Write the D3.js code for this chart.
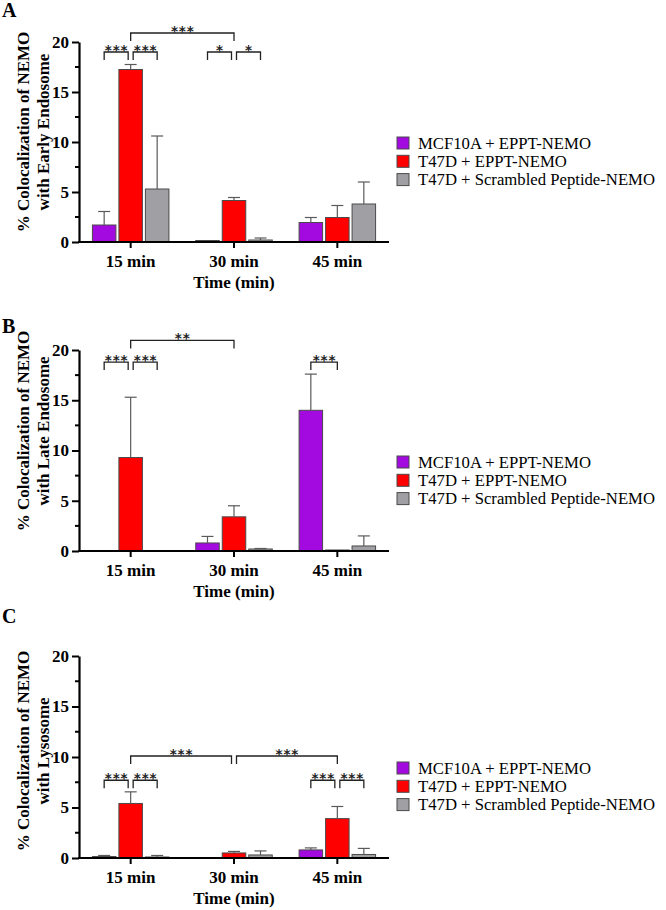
<!DOCTYPE html>
<html>
<head>
<meta charset="utf-8">
<script src="https://cdn.jsdelivr.net/npm/d3@7"></script>
<style>
  html, body { margin: 0; padding: 0; background: #fff; }
  svg { display: block; }
  svg text { font-family: "Liberation Serif", "Times New Roman", serif; }
  svg text.star { font-family: "DejaVu Sans", sans-serif; }
</style>
</head>
<body>
<div id="chart"></div>
<script>
// ---- data ----
const timepoints = ['15 min', '30 min', '45 min'];
const groups = ['MCF10A + EPPT-NEMO', 'T47D + EPPT-NEMO', 'T47D + Scrambled Peptide-NEMO'];
const groupColors = ['#a30ae0', '#ff0000', '#a0a0a4'];
const yTicks = [0, 5, 10, 15, 20];

// means per group, one value per timepoint, and upper error (SD)
const earlyMcf = [1.7, 0.15, 1.95];
const earlyT47 = [17.25, 4.15, 2.45];
const earlyScr = [5.3, 0.2, 3.8];
const earlyMcfErr = [1.35, 0, 0.5];
const earlyT47Err = [0.5, 0.3, 1.2];
const earlyScrErr = [5.3, 0.2, 2.2];

const lateMcf = [0, 0.8, 14.0];
const lateT47 = [9.3, 3.4, 0.1];
const lateScr = [0, 0.2, 0.5];
const lateMcfErr = [0, 0.65, 3.6];
const lateT47Err = [6.0, 1.1, 0];
const lateScrErr = [0, 0.05, 1.0];

const lysoMcf = [0.15, 0, 0.8];
const lysoT47 = [5.4, 0.5, 3.9];
const lysoScr = [0.1, 0.3, 0.35];
const lysoMcfErr = [0.1, 0, 0.2];
const lysoT47Err = [1.15, 0.15, 1.2];
const lysoScrErr = [0.15, 0.4, 0.6];

// significance brackets: [time from, group from, time to, group to, level, label]
const earlySig = [
  [0, 1, 1, 1, 20.9, '***'],
  [0, 0, 0, 1, 19.0, '***'],
  [0, 1, 0, 2, 19.0, '***'],
  [1, 0, 1, 1, 19.0, '*'],
  [1, 1, 1, 2, 19.0, '*']
];
const lateSig = [
  [0, 1, 1, 1, 20.95, '**'],
  [0, 0, 0, 1, 18.8, '***'],
  [0, 1, 0, 2, 18.8, '***'],
  [2, 0, 2, 1, 18.8, '***']
];
const lysoSig = [
  [0, 1, 1, 1, 10.1, '***'],
  [1, 1, 2, 1, 10.1, '***'],
  [0, 0, 0, 1, 7.7, '***'],
  [0, 1, 0, 2, 7.7, '***'],
  [2, 0, 2, 1, 7.7, '***'],
  [2, 1, 2, 2, 7.7, '***']
];

const panels = [
  { letter: 'A', subtitle: 'with Early Endosome', top: 42, bottom: 242, letterY: 17, titleMid: 132, legendTop: 143,
    means: [earlyMcf, earlyT47, earlyScr], errs: [earlyMcfErr, earlyT47Err, earlyScrErr], sig: earlySig },
  { letter: 'B', subtitle: 'with Late Endosome', top: 350, bottom: 551, letterY: 333, titleMid: 431, legendTop: 462,
    means: [lateMcf, lateT47, lateScr], errs: [lateMcfErr, lateT47Err, lateScrErr], sig: lateSig },
  { letter: 'C', subtitle: 'with Lysosome', top: 656, bottom: 858, letterY: 623, titleMid: 751, legendTop: 768,
    means: [lysoMcf, lysoT47, lysoScr], errs: [lysoMcfErr, lysoT47Err, lysoScrErr], sig: lysoSig }
];

const width = 666, height = 910;
const axisLeft = 79, axisRight = 389;

const svg = d3.select('#chart').append('svg')
  .attr('width', width)
  .attr('height', height);

const x0 = d3.scaleBand().domain(d3.range(timepoints.length)).range([axisLeft, axisRight]);
const x1 = d3.scaleBand().domain(d3.range(groups.length)).range([-38.25, 38.25]).paddingInner(0.113);
const barX = (t, g) => x0(t) + x0.bandwidth() / 2 + x1(g);
const barCenter = (t, g) => barX(t, g) + x1.bandwidth() / 2;

panels.forEach(p => {
  const y = d3.scaleLinear().domain([0, 20]).range([p.bottom, p.top]);
  const g = svg.append('g');

  // panel letter
  g.append('text')
    .attr('x', 2).attr('y', p.letterY)
    .attr('font-size', 20).attr('font-weight', 'bold')
    .text(p.letter);

  // bars
  p.means.forEach((series, gi) => {
    g.append('g').selectAll('rect')
      .data(series)
      .join('rect')
      .attr('x', (d, t) => barX(t, gi))
      .attr('width', x1.bandwidth())
      .attr('y', d => y(d))
      .attr('height', d => y(0) - y(d))
      .attr('fill', groupColors[gi])
      .attr('stroke', '#4a4a4a')
      .attr('stroke-width', 1)
      .style('display', d => d > 0 ? null : 'none');

    // error bars (upper only)
    const eb = g.append('g').attr('stroke', '#5a5a5a').attr('stroke-width', 1.2);
    series.forEach((d, t) => {
      const e = p.errs[gi][t];
      if (e <= 0) return;
      const cx = barCenter(t, gi);
      eb.append('line').attr('x1', cx).attr('x2', cx).attr('y1', y(d)).attr('y2', y(d + e));
      eb.append('line').attr('x1', cx - 6).attr('x2', cx + 6).attr('y1', y(d + e)).attr('y2', y(d + e));
    });
  });

  // y axis
  const yAxis = g.append('g')
    .attr('transform', `translate(${axisLeft},0)`)
    .call(d3.axisLeft(y).tickValues(yTicks).tickSize(7).tickSizeOuter(0).tickPadding(3));
  yAxis.attr('font-family', null);
  yAxis.select('.domain').attr('stroke-width', 2.2);
  yAxis.selectAll('.tick line').attr('stroke-width', 2);
  yAxis.selectAll('text').attr('font-size', 17).attr('font-weight', 'bold').attr('fill', '#000');
  const minor = g.append('g').attr('stroke', '#000').attr('stroke-width', 2);
  d3.range(2.5, 20, 5).forEach(v => {
    minor.append('line').attr('x1', axisLeft - 4).attr('x2', axisLeft).attr('y1', y(v)).attr('y2', y(v));
  });

  // x axis
  const xAxis = g.append('g')
    .attr('transform', `translate(0,${p.bottom})`)
    .call(d3.axisBottom(x0).tickFormat(i => timepoints[i]).tickSize(6).tickSizeOuter(0).tickPadding(7));
  xAxis.attr('font-family', null);
  xAxis.select('.domain').attr('stroke-width', 2.2).attr('d', `M${axisLeft - 1},0H${axisRight}`);
  xAxis.selectAll('.tick line').attr('stroke-width', 2);
  xAxis.selectAll('text').attr('font-size', 17).attr('font-weight', 'bold').attr('fill', '#000');

  g.append('text')
    .attr('x', (axisLeft + axisRight) / 2).attr('y', p.bottom + 46)
    .attr('text-anchor', 'middle')
    .attr('font-size', 17).attr('font-weight', 'bold')
    .text('Time (min)');

  // y title
  const yt = g.append('text')
    .attr('transform', `translate(0,${p.titleMid}) rotate(-90)`)
    .attr('text-anchor', 'middle')
    .attr('font-size', 17).attr('font-weight', 'bold');
  yt.append('tspan').attr('x', 0).attr('y', 29).text('% Colocalization of NEMO');
  yt.append('tspan').attr('x', 0).attr('y', 49).text(p.subtitle);

  // significance brackets; ends shared by two brackets are pulled apart a little
  const keyOf = (t, gi, lvl) => `${t}-${gi}-${lvl}`;
  const ends = {};
  p.sig.forEach(s => {
    ends[keyOf(s[0], s[1], s[4])] = (ends[keyOf(s[0], s[1], s[4])] || 0) + 1;
    ends[keyOf(s[2], s[3], s[4])] = (ends[keyOf(s[2], s[3], s[4])] || 0) + 1;
  });
  const br = g.append('g');
  p.sig.forEach(s => {
    let xa = barCenter(s[0], s[1]);
    let xb = barCenter(s[2], s[3]);
    if (ends[keyOf(s[0], s[1], s[4])] > 1) xa += 2.5;
    if (ends[keyOf(s[2], s[3], s[4])] > 1) xb -= 2.5;
    const yl = y(s[4]);
    br.append('path')
      .attr('d', `M${xa},${yl + 8}V${yl}H${xb}V${yl + 8}`)
      .attr('fill', 'none').attr('stroke', '#222').attr('stroke-width', 1.3);
    br.append('text')
      .attr('class', 'star')
      .attr('x', (xa + xb) / 2 + 0.4).attr('y', yl + 3)
      .attr('text-anchor', 'middle')
      .attr('font-size', 13.5).attr('font-weight', 'bold')
      .attr('letter-spacing', 0.8)
      .attr('fill', '#222')
      .text(s[5]);
  });

  // legend
  const lg = g.append('g').attr('transform', `translate(397,${p.legendTop})`);
  groups.forEach((name, gi) => {
    const row = lg.append('g').attr('transform', `translate(0,${gi * 18.3})`);
    row.append('rect')
      .attr('x', 0).attr('y', -6).attr('width', 12).attr('height', 12)
      .attr('fill', groupColors[gi]).attr('stroke', '#4a4a4a').attr('stroke-width', 1);
    row.append('text')
      .attr('x', 21).attr('y', 5.5)
      .attr('font-size', 16.7)
      .text(name);
  });
});
</script>
</body>
</html>
